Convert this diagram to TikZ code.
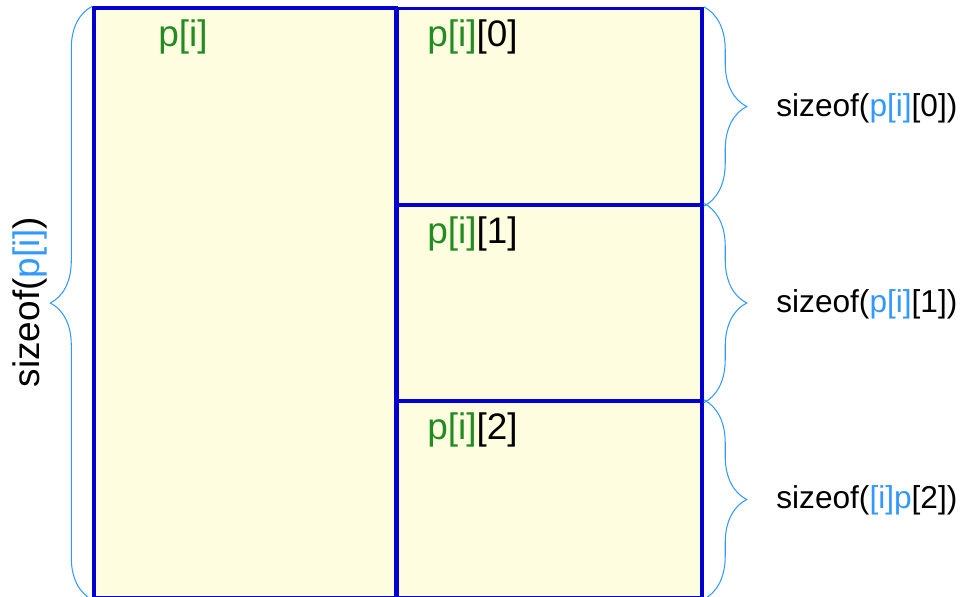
\documentclass[tikz,border=0pt]{standalone}
\usepackage{fontspec}
\setmainfont{Liberation Sans}
\usetikzlibrary{decorations.pathreplacing}
\definecolor{cellfill}{HTML}{FEFDDF}
\definecolor{cellline}{HTML}{0000D0}
\definecolor{idxgreen}{HTML}{228B22}
\definecolor{idxblue}{HTML}{3399FF}
\tikzset{
  cell/.style={draw=cellline, line width=2pt, fill=cellfill, inner sep=0pt, minimum width=6.1cm, minimum height=3.92cm},
  lbl/.style={inner sep=0pt, font=\fontsize{18}{21}\selectfont},
  biglbl/.style={inner sep=0pt, font=\fontsize{21}{24}\selectfont},
  sizebrace/.style={draw=idxblue, line width=0.6pt, decorate, decoration={brace, amplitude=#1}}
}
\begin{document}
\begin{tikzpicture}[x=0.02cm, y=-0.02cm]
  \useasboundingbox (0,0) rectangle (962,596);
  \node[cell, minimum width=6.04cm, minimum height=11.8cm] (big) at (245,303) {};
  \node[cell] (c0) at (549.5,106.5) {};
  \node[cell] (c1) at (549.5,303) {};
  \node[cell] (c2) at (549.5,499.5) {};
  \node[biglbl, anchor=base west, text=idxgreen] (nbig) at (158,46) {p[i]};
  \node[biglbl, anchor=base west] (n0) at (427,46) {\textcolor{idxgreen}{p[i]}[0]};
  \node[biglbl, anchor=base west] (n1) at (427,243) {\textcolor{idxgreen}{p[i]}[1]};
  \node[biglbl, anchor=base west] (n2) at (427,439) {\textcolor{idxgreen}{p[i]}[2]};
  \draw[sizebrace=0.86cm] (c0.north east) -- (c0.south east);
  \draw[sizebrace=0.86cm] (c1.north east) -- (c1.south east);
  \draw[sizebrace=0.86cm] (c2.north east) -- (c2.south east);
  \draw[sizebrace=0.84cm] (big.south west) -- (big.north west);
  \node[lbl, anchor=west] (s0) at (776,108) {sizeof(\textcolor{idxblue}{p[i]}[0])};
  \node[lbl, anchor=west] (s1) at (776,304) {sizeof(\textcolor{idxblue}{p[i]}[1])};
  \node[lbl, anchor=west] (s2) at (776,500) {sizeof(\textcolor{idxblue}{[i]p}[2])};
  \node[biglbl, rotate=90] (sbig) at (30,302) {sizeof(\textcolor{idxblue}{p[i]})};
\end{tikzpicture}
\end{document}
